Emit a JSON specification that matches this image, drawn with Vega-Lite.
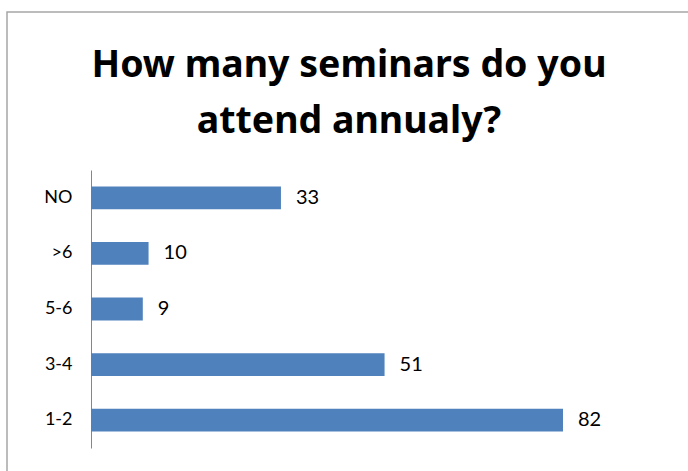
{
  "$schema": "https://vega.github.io/schema/vega-lite/v6.json",
  "width": 684,
  "height": 463,
  "autosize": "none",
  "padding": {"left": 7, "top": 12, "right": 0, "bottom": 0},
  "background": "white",
  "title": {
    "text": ["How many seminars do you", "attend annualy?"],
    "font": "Noto Sans",
    "fontSize": 37.5,
    "fontWeight": "bold",
    "color": "black",
    "anchor": "middle",
    "frame": "group",
    "offset": -128,
    "lineHeight": 56
  },
  "data": {
    "values": [
      {"cat": "NO", "n": 33},
      {"cat": ">6", "n": 10},
      {"cat": "5-6", "n": 9},
      {"cat": "3-4", "n": 51},
      {"cat": "1-2", "n": 82}
    ]
  },
  "encoding": {
    "y": {
      "field": "cat",
      "type": "nominal",
      "sort": ["NO", ">6", "5-6", "3-4", "1-2"],
      "scale": {"range": [158, 436], "paddingInner": 0.59, "paddingOuter": 0.295},
      "axis": {
        "title": null,
        "offset": -84,
        "ticks": false,
        "domainColor": "#868686",
        "labelPadding": 19,
        "labelFont": "Lato",
        "labelFontSize": 18,
        "labelColor": "black"
      }
    },
    "x": {
      "field": "n",
      "type": "quantitative",
      "scale": {"domain": [0, 100], "range": [84, 659.6]},
      "axis": null
    }
  },
  "layer": [
    {"mark": {"type": "bar", "color": "#4f81bd"}},
    {
      "mark": {"type": "text", "align": "left", "dx": 15, "font": "Lato", "fontSize": 20, "color": "black"},
      "encoding": {"text": {"field": "n", "type": "quantitative"}}
    }
  ],
  "config": {"view": {"stroke": "#a6a6a6", "strokeWidth": 1.5}}
}
